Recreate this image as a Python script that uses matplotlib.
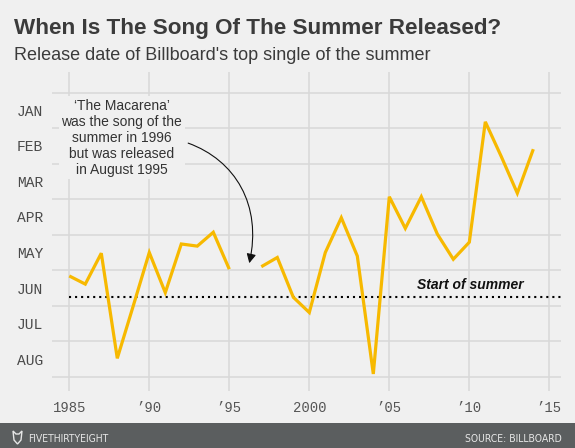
import numpy as np
import matplotlib
matplotlib.use("Agg")
import matplotlib.pyplot as plt
from matplotlib.patches import Rectangle, FancyArrowPatch, Polygon
from matplotlib.path import Path

# %% data: release date as months after Jan 1 (0 = Jan 1, 8 = Sep 1)
years = list(range(1985, 2015))
release = [5.16, 5.39, 4.52, 7.48, 6.00, 4.50, 5.63, 4.26, 4.32, 3.93,
           4.97, np.nan, 4.90, 4.64, 5.76, 6.19, 4.50, 3.52, 4.60, 7.92,
           2.93, 3.82, 2.93, 3.98, 4.69, 4.21, 0.82, 1.80, 2.83, 1.59]
month_labels = ["JAN", "FEB", "MAR", "APR", "MAY", "JUN", "JUL", "AUG"]
year_ticks = [1985, 1990, 1995, 2000, 2005, 2010, 2015]
year_labels = ["1985", "\u201990", "\u201995", "2000", "\u201905", "\u201910", "\u201915"]
summer_start = 5.74

BG = "#f0f0f0"
GRID = "#d8d8d8"
GOLD = "#f7b900"

# %% figure
fig = plt.figure(figsize=(5.75, 4.48), dpi=100, facecolor=BG)
ax = fig.add_axes([52 / 575, 1 - 391 / 448, 509 / 575, 319 / 448])
ax.set_facecolor(BG)
ax.set_xlim(1983.92, 2015.73)
ax.set_ylim(8.40, -0.583)

ax.set_yticks(np.arange(8) + 0.5)
ax.set_yticklabels(month_labels)
ax.set_yticks(np.arange(9), minor=True)
ax.set_xticks(year_ticks)
ax.set_xticklabels(year_labels)
ax.tick_params(which="both", length=0)
ax.tick_params(axis="y", pad=6.5, labelsize=10.5, labelcolor="#4a4a4a")
ax.tick_params(axis="x", pad=7, labelsize=10, labelcolor="#555555")
for lab in ax.get_xticklabels() + ax.get_yticklabels():
    lab.set_family("Liberation Mono")
ax.grid(True, which="minor", axis="y", color=GRID, lw=1.1)
ax.grid(True, which="major", axis="x", color=GRID, lw=1.1)
ax.grid(False, which="major", axis="y")
ax.set_axisbelow(True)
for s in ax.spines.values():
    s.set_visible(False)

# start of summer
ax.hlines(summer_start, 1985, 2015.73, colors="black", lw=1.5,
          linestyles=(0, (1, 1.9)), zorder=2)
ax.text(2013.39, 5.53, "Start of summer", ha="right", va="baseline",
        fontsize=10, fontweight="bold", fontstyle="italic",
        family="Liberation Sans", color="#111111", zorder=3)

# main line
ax.plot(years, release, color=GOLD, lw=2.3, solid_joinstyle="miter",
        solid_capstyle="butt", zorder=4)

# annotation
ax.text(1988.28, 1.27,
        "\u2018The Macarena\u2019\nwas the song of the\nsummer in 1996\nbut was released\nin August 1995",
        ha="center", va="center", multialignment="center", fontsize=10,
        family="Liberation Sans", color="#333333", linespacing=1.17,
        bbox=dict(facecolor=BG, edgecolor="none", pad=2), zorder=3)
arrow_path = Path([(1992.43, 1.42), (1995.37, 1.90), (1997.06, 3.16), (1996.25, 4.80)],
                  [Path.MOVETO, Path.CURVE4, Path.CURVE4, Path.CURVE4])
arrow = FancyArrowPatch(path=arrow_path, arrowstyle="-|>,head_length=0.55,head_width=0.28",
                        mutation_scale=10, color="#111111", lw=0.8, zorder=5)
ax.add_patch(arrow)

# titles
fig.text(14.5 / 575, 1 - 33.7 / 448, "When Is The Song Of The Summer Released?",
         fontsize=16.2, fontweight="bold", family="Liberation Sans",
         color="#3b3b3b", va="baseline", ha="left")
fig.text(14.5 / 575, 1 - 60.5 / 448, "Release date of Billboard's top single of the summer",
         fontsize=13, family="Liberation Sans", color="#3b3b3b",
         va="baseline", ha="left")

# footer
fig.add_artist(Rectangle((0, 0), 1, 25 / 448, transform=fig.transFigure,
                         facecolor="#5b5e5f", edgecolor="none"))
fig.add_artist(Polygon([(13 / 575, 1 - 431 / 448), (16 / 575, 1 - 434 / 448),
                        (19 / 575, 1 - 434 / 448), (22 / 575, 1 - 431 / 448),
                        (21 / 575, 1 - 440 / 448), (17.5 / 575, 1 - 444 / 448),
                        (14 / 575, 1 - 440 / 448)],
                       closed=True, transform=fig.transFigure,
                       facecolor="none", edgecolor="#e6e6e6", lw=1))
fig.text(28 / 575, 1 - 438.5 / 448, "FIVETHIRTYEIGHT", fontsize=7.5,
         family="DejaVu Sans", fontstretch="condensed", color="#e6e6e6",
         va="center", ha="left")
fig.text(562 / 575, 1 - 438.5 / 448, "SOURCE: BILLBOARD", fontsize=7.5,
         family="DejaVu Sans", fontstretch="condensed", color="#e6e6e6",
         va="center", ha="right")

fig.savefig("out.png", dpi=100, facecolor=BG)
